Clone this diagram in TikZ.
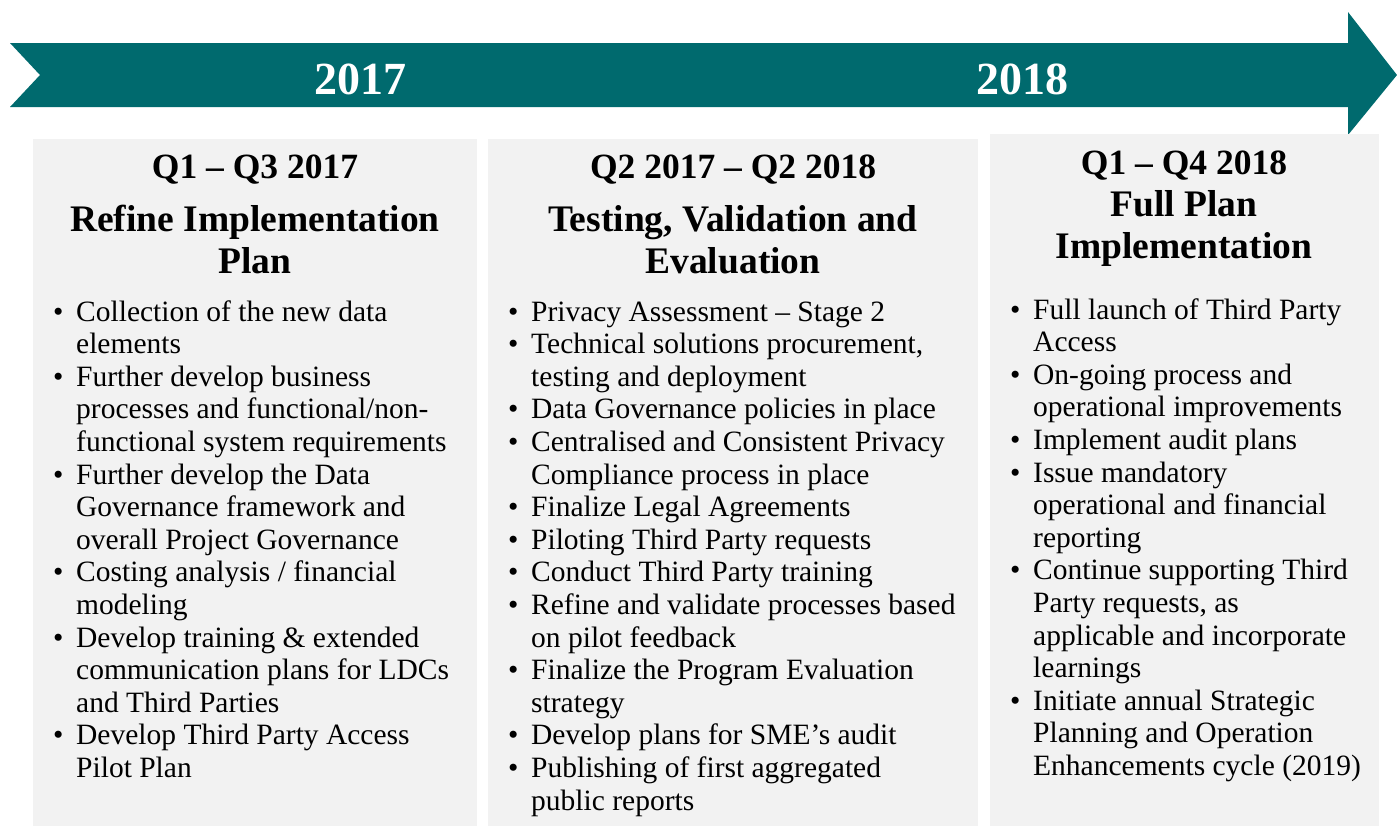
\documentclass[tikz,border=0pt]{standalone}
\usepackage{fontspec}
\setmainfont{Liberation Serif}
\definecolor{tealband}{HTML}{006A6E}
\definecolor{boxgray}{HTML}{F2F2F2}
\newcommand{\bi}[1]{\par\hangindent=23pt\hangafter=1\noindent\makebox[23pt][l]{•}#1\par}
\newcommand{\bodytext}[1]{\parbox[t]{520pt}{\raggedright\fontsize{29.5}{32.6}\selectfont\parskip=0pt #1}}
\newcommand{\titletext}[1]{\parbox[t]{460pt}{\centering\fontsize{37.5}{42.5}\selectfont\bfseries #1}}
\tikzset{
  panel/.style={fill=boxgray, draw=none},
  yearlabel/.style={text=white, font=\fontsize{46}{50}\selectfont\bfseries, anchor=base, inner sep=0},
  period/.style={font=\fontsize{35.5}{40}\selectfont\bfseries, anchor=base, inner sep=0},
  ptitle/.style={anchor=base, inner sep=0},
  body/.style={anchor=base west, inner sep=0}
}
\begin{document}
\begin{tikzpicture}[x=1pt,y=-1pt]
\useasboundingbox (0,0) rectangle (1397,827);
% timeline arrow
\fill[tealband] (10,43) -- (1348,43) -- (1348,12) -- (1397,75) -- (1348,135) -- (1348,107) -- (10,107) -- (40,75) -- cycle;
\node[yearlabel] (y2017) at (360,94) {2017};
\node[yearlabel] (y2018) at (1022,94) {2018};
% panels
\fill[panel] (33,139) rectangle (477,826);
\fill[panel] (488,139) rectangle (978,826);
\fill[panel] (990,134) rectangle (1379,826);
% panel 1
\node[period] (p1) at (255,178) {Q1 – Q3 2017};
\node[ptitle] (t1) at (255,231) {\titletext{Refine Implementation\\ Plan}};
\node[body] (b1) at (53,321) {\bodytext{%
\bi{Collection of the new data\newline elements}
\bi{Further develop business\newline processes and functional/non-\newline functional system requirements}
\bi{Further develop the Data\newline Governance framework and\newline overall Project Governance}
\bi{Costing analysis / financial\newline modeling}
\bi{Develop training \& extended\newline communication plans for LDCs\newline and Third Parties}
\bi{Develop Third Party Access\newline Pilot Plan}}};
% panel 2
\node[period] (p2) at (733,178) {Q2 2017 – Q2 2018};
\node[ptitle] (t2) at (733,231) {\titletext{Testing, Validation and\\ Evaluation}};
\node[body] (b2) at (508,321) {\bodytext{%
\bi{Privacy Assessment – Stage 2}
\bi{Technical solutions procurement,\newline testing and deployment}
\bi{Data Governance policies in place}
\bi{Centralised and Consistent Privacy\newline Compliance process in place}
\bi{Finalize Legal Agreements}
\bi{Piloting Third Party requests}
\bi{Conduct Third Party training}
\bi{Refine and validate processes based\newline on pilot feedback}
\bi{Finalize the Program Evaluation\newline strategy}
\bi{Develop plans for SME’s audit}
\bi{Publishing of first aggregated\newline public reports}}};
% panel 3
\node[period] (p3) at (1184,174) {Q1 – Q4 2018};
\node[ptitle] (t3) at (1184,216) {\titletext{Full Plan\\ Implementation}};
\node[body] (b3) at (1010,319) {\bodytext{%
\bi{Full launch of Third Party\newline Access}
\bi{On-going process and\newline operational improvements}
\bi{Implement audit plans}
\bi{Issue mandatory\newline operational and financial\newline reporting}
\bi{Continue supporting Third\newline Party requests, as\newline applicable and incorporate\newline learnings}
\bi{Initiate annual Strategic\newline Planning and Operation\newline Enhancements cycle (2019)}}};
\end{tikzpicture}
\end{document}
